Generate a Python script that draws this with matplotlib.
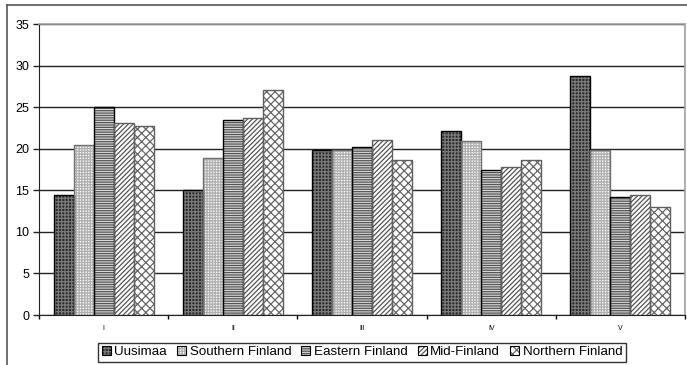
import matplotlib
matplotlib.use("Agg")
import matplotlib.pyplot as plt
from matplotlib.lines import Line2D
from matplotlib.patches import Patch
import numpy as np

plt.rcParams['font.family'] = ['Liberation Sans', 'DejaVu Sans']
plt.rcParams['hatch.linewidth'] = 0.9

categories = ["I", "II", "III", "IV", "V"]
series = ["Uusimaa", "Southern Finland", "Eastern Finland", "Mid-Finland", "Northern Finland"]
uusimaa = [14.4, 15.0, 19.9, 22.1, 28.7]
southern = [20.4, 18.9, 19.8, 20.9, 19.9]
eastern = [25.0, 23.4, 20.2, 17.4, 14.2]
mid = [23.1, 23.7, 21.1, 17.8, 14.4]
northern = [22.7, 27.1, 18.6, 18.6, 13.0]
values = [uusimaa, southern, eastern, mid, northern]

# fill colour, hatch pattern, hatch colour, outline colour
styles = [
    ("#2a2a2a", "+++++", "#7a7a7a", "#000000"),
    ("#f4f4f4", "++++++", "#b0b0b0", "#707070"),
    ("#d8d8d8", "-------", "#555555", "#000000"),
    ("#ffffff", "///////", "#555555", "#606060"),
    ("#ffffff", "xxxx", "#666666", "#606060"),
]

W, H = 687, 365
fig = plt.figure(figsize=(W / 100, H / 100), dpi=100)
ax = fig.add_axes([39 / W, 1 - 315 / H, (685 - 39) / W, (315 - 24) / H])

x = np.arange(len(categories))
bw = 0.155
for i, (vals, (fc, hatch, hc, ec)) in enumerate(zip(values, styles)):
    pos = x + (i - 2) * bw
    ax.bar(pos, vals, width=bw, color=fc, edgecolor=hc, hatch=hatch,
           linewidth=0, zorder=3)
    ax.bar(pos, vals, width=bw, fill=False, edgecolor=ec, linewidth=1.0, zorder=4)

ax.set_ylim(0, 35)
ax.set_xlim(-0.5, len(categories) - 0.5)
ax.set_yticks(np.arange(0, 36, 5))
ax.yaxis.grid(True, color="#222222", linewidth=1.0, zorder=0)
ax.set_axisbelow(True)
ax.tick_params(axis='y', labelsize=9, length=4, width=1, color="#222222", pad=3)

ax.set_xticks(x)
ax.set_xticklabels(categories, fontsize=5)
ax.tick_params(axis='x', length=0, pad=7)
ax.set_xticks(np.arange(-0.5, len(categories) + 0.5, 1), minor=True)
ax.tick_params(axis='x', which='minor', length=3, width=1, direction='out')

for s in ["top", "right"]:
    ax.spines[s].set_color("#a0a0a0")
    ax.spines[s].set_linewidth(1.2)
ax.spines["left"].set_color("#222222")
ax.spines["bottom"].set_color("#222222")

# outer frame around the chart
fig.add_artist(Line2D([7 / W, 1], [1 - 5 / H, 1 - 5 / H], transform=fig.transFigure,
                      color="#555555", linewidth=1.2))
fig.add_artist(Line2D([7 / W, 7 / W], [1 - 5 / H, 0], transform=fig.transFigure,
                      color="#555555", linewidth=1.2))

# legend keys: hatched fill overlaid with an outline
handles = [(Patch(facecolor=fc, edgecolor=hc, hatch=h, linewidth=0),
            Patch(fill=False, edgecolor="#000000", linewidth=0.8))
           for (fc, h, hc, ec) in styles]
leg = fig.legend(handles, series, loc="center", bbox_to_anchor=(362 / W, 1 - 352 / H),
                 ncol=5, fontsize=9.6, frameon=True, fancybox=False,
                 handlelength=0.7, handleheight=0.7, handletextpad=0.25,
                 columnspacing=0.75, borderpad=0.25, borderaxespad=0)
leg.get_frame().set_edgecolor("#000000")
leg.get_frame().set_linewidth(1.0)

fig.savefig("out.png", dpi=100)
